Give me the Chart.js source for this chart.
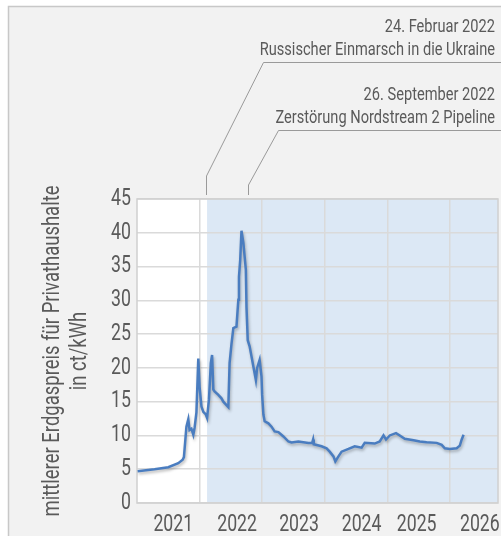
<!DOCTYPE html>
<html>
<head>
<meta charset="utf-8">
<script src="https://cdn.jsdelivr.net/npm/chart.js@4/dist/chart.umd.min.js"></script>
<style>
  html, body { margin: 0; padding: 0; background: #fff; }
  #wrap { width: 501px; height: 536px; position: relative; }
</style>
</head>
<body>
<div id="wrap"><canvas id="gas-chart"></canvas></div>
<script>
// Datum als Dezimaljahr, Preis in ct/kWh
const dates = [
  2021.01, 2021.28, 2021.50, 2021.66, 2021.73, 2021.75, 2021.79, 2021.82, 2021.84, 2021.87,
  2021.90, 2021.92, 2021.95, 2021.98, 2022.00, 2022.03, 2022.06, 2022.10, 2022.12, 2022.15,
  2022.18, 2022.20, 2022.22, 2022.24, 2022.30, 2022.35, 2022.38, 2022.43, 2022.46, 2022.48,
  2022.51, 2022.54, 2022.59, 2022.62, 2022.63, 2022.65, 2022.67, 2022.70, 2022.72, 2022.74,
  2022.75, 2022.77, 2022.80, 2022.86, 2022.90, 2022.92, 2022.96, 2022.99, 2023.00, 2023.02,
  2023.04, 2023.10, 2023.15, 2023.20, 2023.26, 2023.34, 2023.42, 2023.47, 2023.58, 2023.74,
  2023.80, 2023.815, 2023.825, 2023.95, 2024.03, 2024.08, 2024.14, 2024.17, 2024.22, 2024.27,
  2024.38, 2024.48, 2024.59, 2024.64, 2024.80, 2024.88, 2024.94, 2024.98, 2025.04, 2025.14,
  2025.20, 2025.28, 2025.42, 2025.52, 2025.63, 2025.79, 2025.87, 2025.92, 2026.00, 2026.11,
  2026.16, 2026.19, 2026.22
];
const prices = [
  4.7, 5.0, 5.3, 5.9, 6.4, 6.8, 11.3, 12.4, 10.8, 11.0,
  10.1, 11.1, 13.4, 21.4, 17.2, 14.3, 13.5, 13.1, 12.6, 15.3,
  20.7, 21.9, 16.8, 16.5, 16.0, 15.5, 15.0, 14.5, 14.2, 20.7,
  23.5, 25.9, 26.1, 30.1, 33.5, 36.0, 40.3, 38.5, 36.5, 34.5,
  29.0, 24.1, 23.2, 20.2, 18.2, 20.0, 21.2, 18.7, 16.0, 13.1,
  12.1, 11.8, 11.3, 10.6, 10.5, 9.85, 9.1, 8.95, 9.1, 8.9,
  8.9, 9.4, 8.7, 8.4, 8.1, 7.6, 6.9, 6.15, 6.9, 7.6,
  8.0, 8.4, 8.2, 8.9, 8.8, 9.1, 10.0, 9.4, 10.0, 10.35,
  10.0, 9.5, 9.3, 9.1, 9.0, 8.9, 8.6, 8.1, 8.0, 8.1,
  8.5, 9.4, 10.1
];

// Achsen
const xMin = 2021, xMax = 2026.77;
const gridYears = [2022, 2023, 2024, 2025, 2026];
const yearLabels = ['2021', '2022', '2023', '2024', '2025', '2026'];
const yearLabelAt = [2021.58, 2022.60, 2023.59, 2024.59, 2025.47, 2026.48];
const yTicks = [0, 5, 10, 15, 20, 25, 30, 35, 40, 45];

// Ereignisse
const eventDates = [2022.11, 2022.78];
const eventTitles = ['24. Februar 2022', '26. September 2022'];
const eventTexts = ['Russischer Einmarsch in die Ukraine', 'Zerstörung Nordstream 2 Pipeline'];
const shadeStart = 2022.12;

const FONT = "Roboto, 'DejaVu Sans', sans-serif";
const TEXT = '#5a5a5a';
const NARROW = 0.77; // schmale Schrift nachbilden

const backdrop = {
  id: 'backdrop',
  beforeInit(chart) {
    const ctx = chart.ctx;
    const fill = ctx.fillText.bind(ctx);
    ctx.fillText = (t, x, y) => {
      ctx.save();
      ctx.translate(x, y);
      ctx.scale(NARROW, 1);
      fill(t, 0, 0);
      ctx.restore();
    };
  },
  beforeDraw(chart) {
    const { ctx, chartArea: a, scales } = chart;
    ctx.save();
    ctx.fillStyle = '#f2f2f2';
    ctx.fillRect(8, 6, chart.width, chart.height);
    ctx.strokeStyle = '#c8c8c8';
    ctx.lineWidth = 1.5;
    ctx.beginPath();
    ctx.moveTo(8.5, chart.height);
    ctx.lineTo(8.5, 6.5);
    ctx.lineTo(chart.width, 6.5);
    ctx.stroke();
    ctx.fillStyle = '#ffffff';
    ctx.fillRect(a.left, a.top, a.right - a.left, a.bottom - a.top);
    const sx = scales.x.getPixelForValue(shadeStart);
    ctx.fillStyle = '#dce8f5';
    ctx.fillRect(sx, a.top, a.right - sx, a.bottom - a.top);
    ctx.restore();
  },
  beforeDatasetsDraw(chart) {
    const { ctx, chartArea: a } = chart;
    ctx.save();
    ctx.strokeStyle = '#d0d0d0';
    ctx.lineWidth = 1.5;
    ctx.strokeRect(a.left, a.top, a.right - a.left, a.bottom - a.top);
    ctx.restore();
  },
  beforeDatasetDraw(chart) {
    const ctx = chart.ctx;
    ctx.save();
    ctx.shadowColor = 'rgba(0,0,0,0.28)';
    ctx.shadowBlur = 3;
    ctx.shadowOffsetX = 1;
    ctx.shadowOffsetY = 2;
  },
  afterDatasetDraw(chart) {
    chart.ctx.restore();
  },
  afterDraw(chart) {
    const { ctx, scales } = chart;
    const titleY = [32, 100];
    const textY = [55, 123];
    const lineY = [62.5, 130.5];
    const kneeY = [176, 185];
    const slant = [57, 30];
    ctx.save();
    ctx.fillStyle = TEXT;
    ctx.textAlign = 'right';
    ctx.textBaseline = 'alphabetic';
    ctx.font = '19px ' + FONT;
    ctx.strokeStyle = '#9a9a9a';
    ctx.lineWidth = 1;
    eventDates.forEach((d, i) => {
      ctx.fillText(eventTitles[i], 495, titleY[i]);
      ctx.fillText(eventTexts[i], 495, textY[i]);
      const ex = Math.round(scales.x.getPixelForValue(d)) + 0.5;
      ctx.beginPath();
      ctx.moveTo(chart.width, lineY[i]);
      ctx.lineTo(ex + slant[i], lineY[i]);
      ctx.lineTo(ex, kneeY[i]);
      ctx.lineTo(ex, 195);
      ctx.stroke();
    });
    ctx.restore();
  }
};

new Chart(document.getElementById('gas-chart'), {
  type: 'line',
  data: {
    datasets: [{
      data: dates.map((d, i) => ({ x: d, y: prices[i] })),
      borderColor: '#4a7dc0',
      borderWidth: 2.5,
      pointRadius: 0,
      tension: 0,
      fill: false
    }]
  },
  options: {
    responsive: true,
    maintainAspectRatio: false,
    animation: false,
    layout: { padding: { top: 199, right: 3, left: 0, bottom: 0 } },
    plugins: { legend: { display: false }, tooltip: { enabled: false } },
    scales: {
      x: {
        type: 'linear',
        min: xMin,
        max: xMax,
        afterBuildTicks: s => {
          s.ticks = gridYears.map(v => ({ value: v })).concat(yearLabelAt.map(v => ({ value: v })));
        },
        afterFit: s => {
          s.height = 33;
          s.paddingLeft = 0;
          s.paddingRight = 0;
        },
        grid: {
          color: c => gridYears.includes(c.tick && c.tick.value) ? '#dadada' : 'rgba(0,0,0,0)',
          lineWidth: 1.5,
          drawTicks: false
        },
        border: { display: false },
        ticks: {
          autoSkip: false,
          maxRotation: 0,
          padding: 8,
          color: TEXT,
          font: { family: FONT, size: 23 },
          callback: v => {
            const i = yearLabelAt.indexOf(v);
            return i >= 0 ? yearLabels[i] : '';
          }
        }
      },
      y: {
        min: 0,
        max: 45,
        afterBuildTicks: s => { s.ticks = yTicks.map(v => ({ value: v })); },
        afterFit: s => {
          s.width = 137;
          s.paddingTop = 0;
          s.paddingBottom = 0;
        },
        grid: { color: '#dadada', lineWidth: 1.5, drawTicks: false },
        border: { display: false },
        ticks: {
          padding: 6,
          color: TEXT,
          font: { family: FONT, size: 23 }
        },
        title: {
          display: true,
          text: ['mittlerer Erdgaspreis für Privathaushalte', 'in ct/kWh'],
          color: TEXT,
          font: { family: FONT, size: 24, lineHeight: 1.14 },
          padding: { top: 39, bottom: 0 }
        }
      }
    }
  },
  plugins: [backdrop]
});
</script>
</body>
</html>
